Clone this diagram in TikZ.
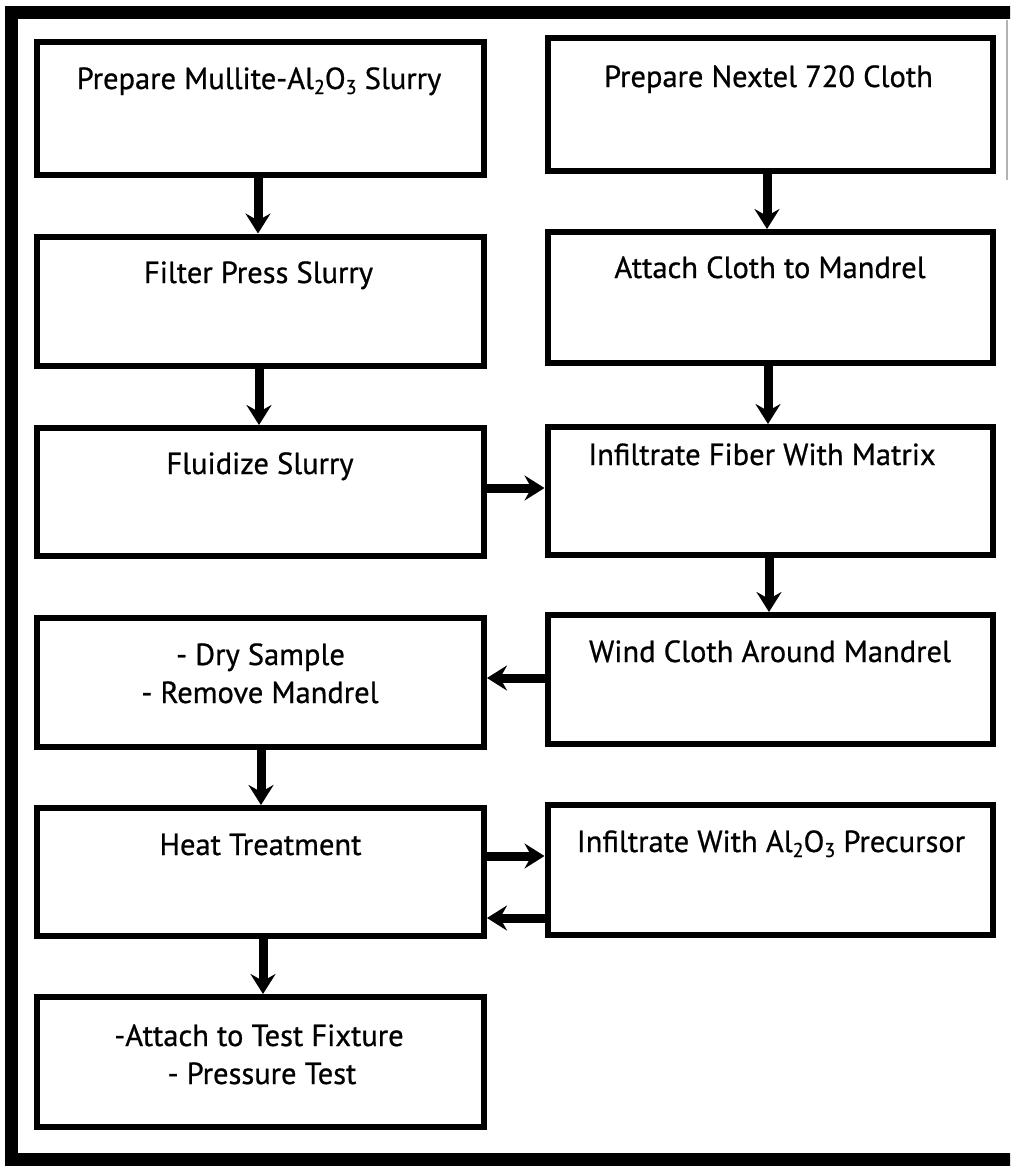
\documentclass[tikz,border=0pt]{standalone}
\usepackage{fontspec}
\newfontfamily\boxfont[FakeBold=0.7]{PT Sans}
\usetikzlibrary{arrows.meta}
\newcommand\sbs[1]{\raisebox{-5pt}{\fontsize{20}{20}\selectfont #1}}
\tikzset{
  box/.style={draw=black, line width=6pt, fill=none, rectangle, inner sep=0pt},
  lbox/.style={box, minimum width=447pt},
  rbox/.style={box, minimum width=445.5pt},
  txt/.style={font=\boxfont\fontsize{30.5}{36}\selectfont, anchor=base, inner sep=0pt},
  arr/.style={line width=9pt, -{Stealth[length=20pt,width=25pt,inset=7pt]}},
  framestyle/.style={line width=13pt, line cap=butt}
}
\begin{document}
\begin{tikzpicture}[x=1pt,y=-1pt]
\useasboundingbox (0,0) rectangle (1010,1167);
\clip (0,0) rectangle (1010,1167);
\fill[white] (0,0) rectangle (1010,1167);
% outer frame
\draw[framestyle] (1020,12.5) -- (11.5,12.5) -- (11.5,1159) -- (1020,1159);
\draw[gray!60, line width=1.5pt] (1007,20) -- (1007,180);

% left column boxes
\node[lbox, minimum height=133.5pt] (L1) at (260.5,108.25) {};
\node[lbox, minimum height=129.5pt] (L2) at (260.5,301.25) {};
\node[lbox, minimum height=128pt]   (L3) at (260.5,492) {};
\node[lbox, minimum height=129pt]   (L4) at (260.5,682.5) {};
\node[lbox, minimum height=128pt]   (L5) at (260.5,872) {};
\node[lbox, minimum height=130pt]   (L6) at (260.5,1062) {};
% right column boxes
\node[rbox, minimum height=133pt] (R1) at (770.25,104.5) {};
\node[rbox, minimum height=131pt] (R2) at (770.25,297.5) {};
\node[rbox, minimum height=128pt] (R3) at (770.25,491) {};
\node[rbox, minimum height=129pt] (R4) at (770.25,679.5) {};
\node[rbox, minimum height=130pt] (R5) at (770.25,870) {};

% texts
\node[txt] (tL1) at (259,89) {Prepare Mullite-Al\sbs{2}O\sbs{3} Slurry};
\node[txt] (tL2) at (258.5,283) {Filter Press Slurry};
\node[txt] (tL3) at (260,474) {Fluidize Slurry};
\node[txt] (tL4a) at (260.5,665) {- Dry Sample};
\node[txt] (tL4b) at (260,703) {- Remove Mandrel};
\node[txt] (tL5) at (260.5,855) {Heat Treatment};
\node[txt] (tL6a) at (259,1046) {-Attach to Test Fixture};
\node[txt] (tL6b) at (262,1084) {- Pressure Test};
\node[txt] (tR1) at (768.5,87) {Prepare Nextel 720 Cloth};
\node[txt] (tR2) at (770,278) {Attach Cloth to Mandrel};
\node[txt] (tR3) at (762,465) {Infiltrate Fiber With Matrix};
\node[txt] (tR4) at (770,662) {Wind Cloth Around Mandrel};
\node[txt] (tR5) at (771,852) {Infiltrate With Al\sbs{2}O\sbs{3} Precursor};

% vertical arrows
\draw[arr] (L1.south -| 258,0) -- (L2.north -| 258,0);
\draw[arr] (L2.south -| 259,0) -- (L3.north -| 259,0);
\draw[arr] (L4.south -| 261,0) -- (L5.north -| 261,0);
\draw[arr] (L5.south -| 263,0) -- (L6.north -| 263,0);
\draw[arr] (R1.south -| 767,0) -- (R2.north -| 767,0);
\draw[arr] (R2.south -| 768,0) -- (R3.north -| 768,0);
\draw[arr] (R3.south -| 769,0) -- (R4.north -| 769,0);
% horizontal arrows
\draw[arr] (L3.east |- 0,488) -- (R3.west |- 0,488);
\draw[arr] (R4.west |- 0,678) -- (L4.east |- 0,678);
\draw[arr] (L5.east |- 0,856) -- (R5.west |- 0,856);
\draw[arr] (R5.west |- 0,918) -- (L5.east |- 0,918);
\end{tikzpicture}
\end{document}
